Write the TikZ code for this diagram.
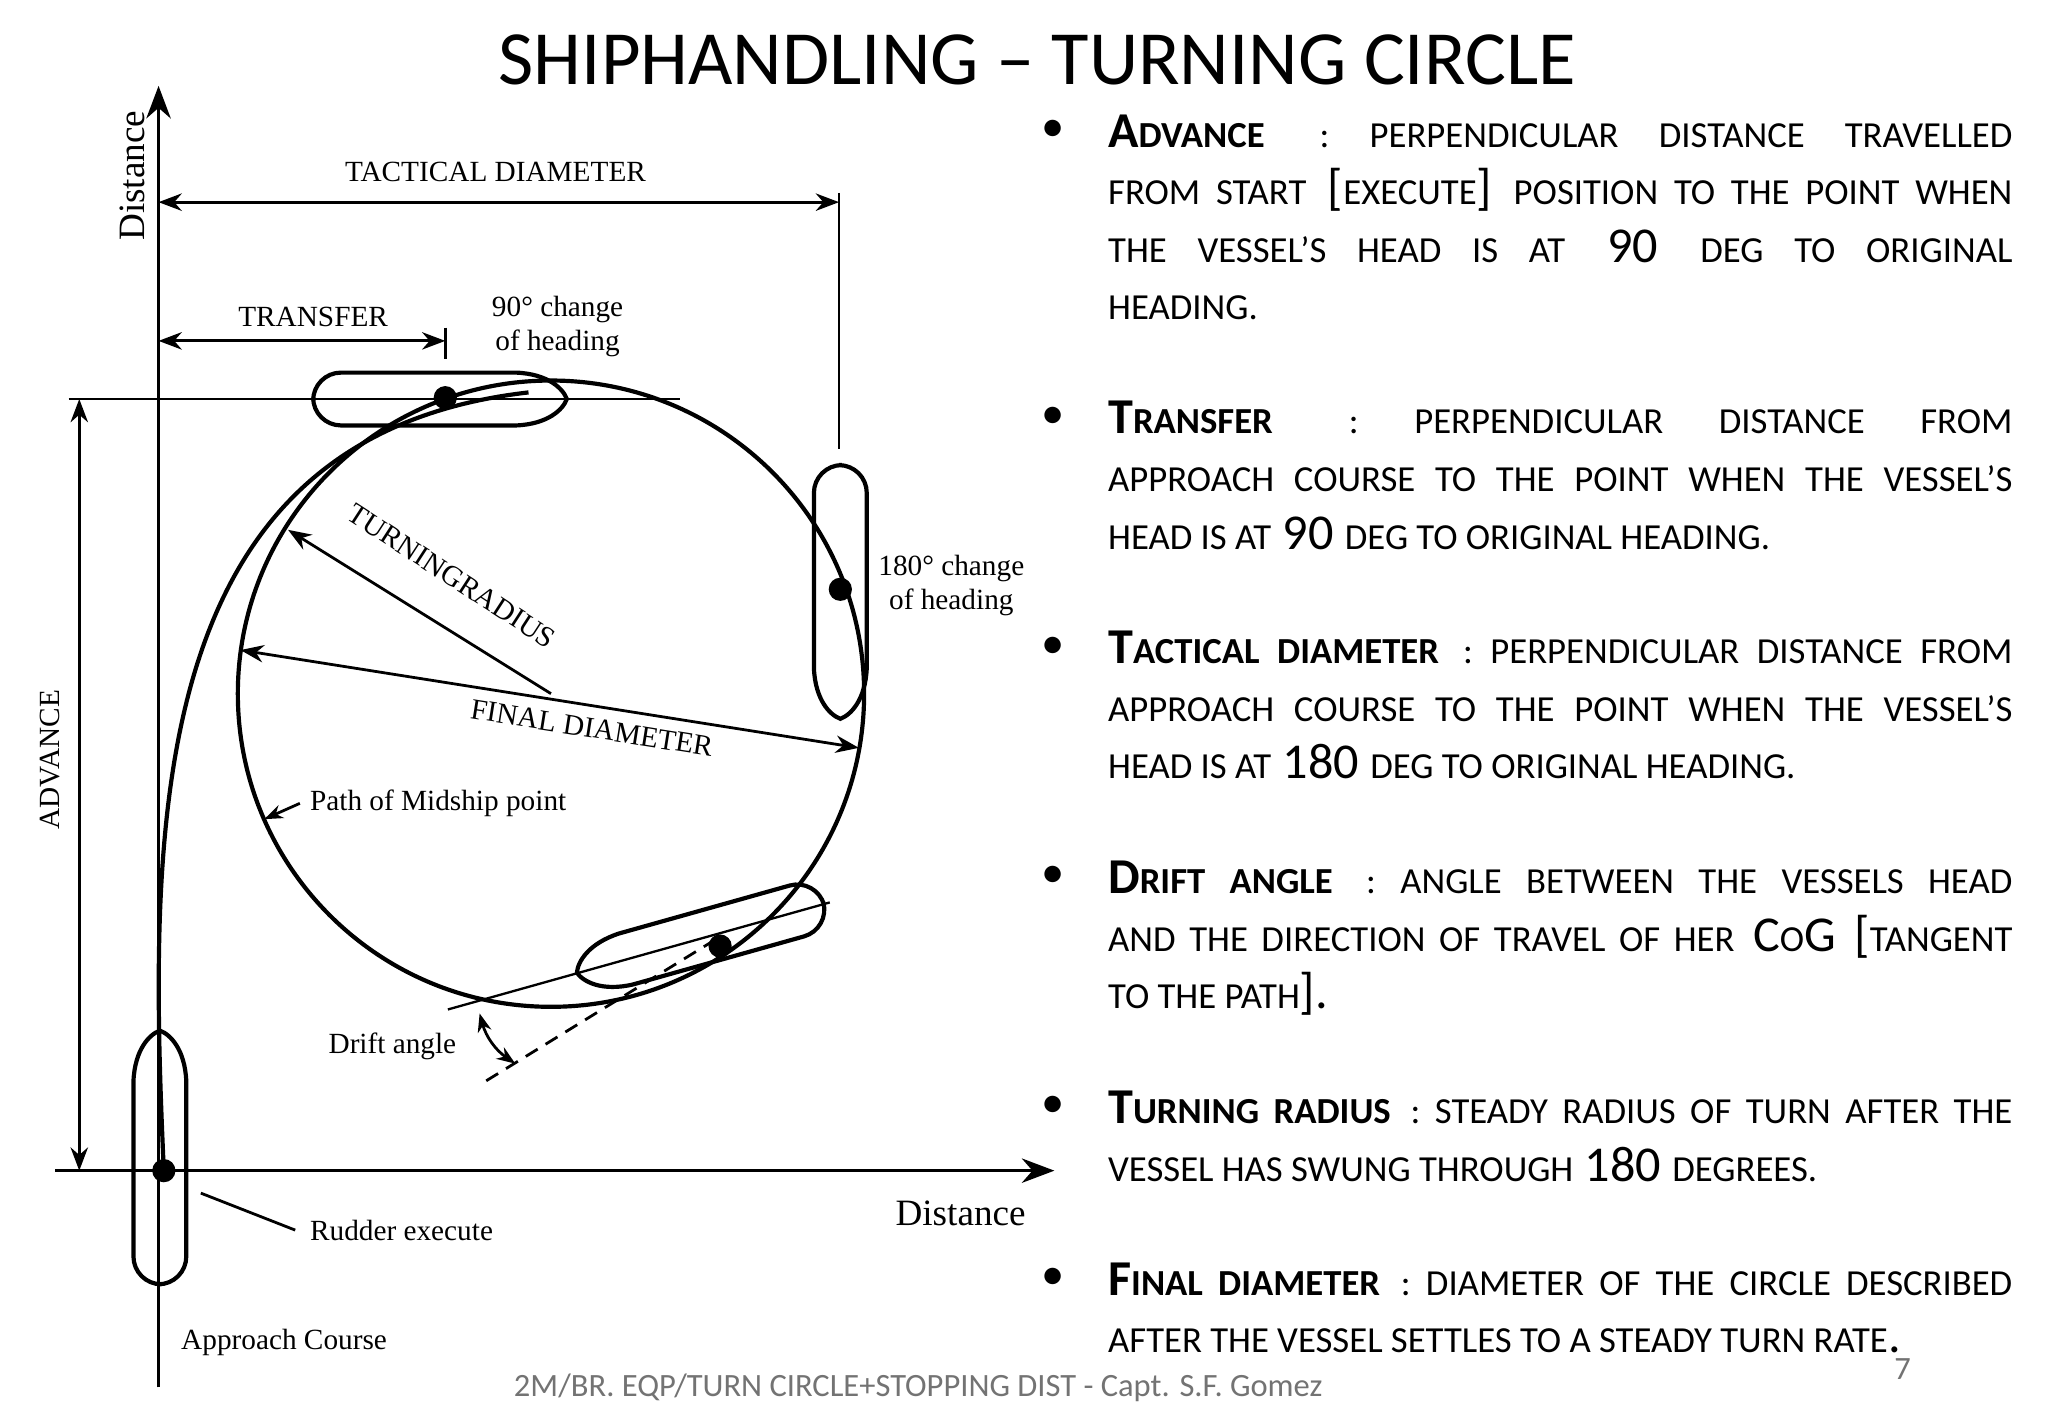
\documentclass[tikz,border=0pt]{standalone}
\usepackage{fontspec}
\setmainfont{Carlito}
\newfontfamily\serif{Liberation Serif}
\usetikzlibrary{arrows.meta}
\hfuzz=30pt
\hbadness=10000
\newcommand\sm[1]{{\fontsize{7.9}{12.4}\selectfont #1}}
\newcommand\nohy{\hyphenpenalty=10000 \exhyphenpenalty=10000 }
\newcommand\shipat[4]{\begin{scope}[shift={(#1,#2)},rotate=#3]
\draw[line width=0.9pt] (0.6*#4,20) [rounded corners=6]-- (-#4,20) -- (-#4,-20) [sharp corners]-- (0.6*#4,-20) .. controls (0.85*#4,-19) and (0.97*#4,-8) .. (#4,0) .. controls (0.97*#4,8) and (0.85*#4,19) .. (0.6*#4,20) -- cycle;
\end{scope}}
\tikzset{lbl/.style={font=\serif\fontsize{6.3}{7.3}\selectfont, inner sep=0pt},
 dim/.style={{Stealth[length=5pt]}-{Stealth[length=5pt]}, line width=0.6pt},
 bul/.style={anchor=north west, text width=6.84cm, align=justify, inner sep=0pt, font=\fontsize{10.8}{12.4}\selectfont},
 dot/.style={circle, fill, inner sep=0pt, minimum size=5pt}}
\begin{document}
\begin{tikzpicture}[x=0.01cm,y=-0.01cm]
\useasboundingbox (0,0) rectangle (1550,1073);
\node[font=\fontsize{16.5}{18}\selectfont] (title) at (785,45) {SHIPHANDLING -- TURNING CIRCLE};
% axes
\coordinate (yb) at (120,1050); \coordinate (yt) at (120,65);
\coordinate (xl) at (42,886); \coordinate (xr) at (798,886);
\draw[line width=0.7pt,-{Stealth[length=7pt]}] (yb) -- (yt);
\draw[line width=0.7pt,-{Stealth[length=7pt]}] (xl) -- (xr);
\node[lbl,font=\serif\fontsize{8}{9}\selectfont,rotate=90] (d1) at (100,133) {Distance};
\node[lbl,font=\serif\fontsize{8}{9}\selectfont] (d2) at (727,918) {Distance};
% tactical
\coordinate (t1) at (120,153); \coordinate (t2) at (635,153);
\draw[dim] (t1) -- (t2);
\coordinate (tk1) at (635,146); \coordinate (tk2) at (635,340);
\draw[line width=0.6pt] (tk1) -- (tk2);
\node[lbl] (tdl) at (375,130) {TACTICAL DIAMETER};
% transfer
\coordinate (tr1) at (120,258); \coordinate (tr2) at (337,258);
\draw[dim] (tr1) -- (tr2);
\coordinate (tt1) at (337,248); \coordinate (tt2) at (337,272);
\draw[line width=0.6pt] (tt1) -- (tt2);
\node[lbl] (trl) at (237,240) {TRANSFER};
\node[lbl,align=center] (c90) at (422,247) {90° change\\of heading};
% advance
\coordinate (a1) at (60,302); \coordinate (a2) at (60,886);
\draw[dim] (a1) -- (a2);
\coordinate (h1) at (52,302); \coordinate (h2) at (515,302);
\draw[line width=0.6pt] (h1) -- (h2);
\node[lbl,rotate=90] (adv) at (38,575) {ADVANCE};
% circle and path
\coordinate (cc) at (417,525);
\draw[line width=0.9pt] (cc) circle (237);
\coordinate (s0) at (124,886); \coordinate (s1) at (400,297);
\draw[line width=0.9pt] (s0) .. controls (112,620) and (110,330) .. (s1);
% ships
\shipat{333}{302}{0}{96}
\shipat{636}{448}{-90}{96}
\shipat{121}{876}{90}{96}
\shipat{530}{710}{195.7}{97}
\node[dot] (p1) at (337,301) {};
\node[dot] (p2) at (636,446) {};
\node[dot] (p3) at (124,886) {};
\node[dot] (p4) at (545,716) {};
\node[lbl,align=center] (c180) at (720,443) {180° change\\of heading};
% radius & diameter
\coordinate (r1) at (218,401);
\draw[line width=0.6pt,{Stealth[length=5pt]}-] (r1) -- (cc);
\node[lbl,rotate=-33] (trl2) at (342,436) {TURNINGRADIUS};
\coordinate (f1) at (182,492); \coordinate (f2) at (650,566);
\draw[dim] (f1) -- (f2);
\node[lbl,rotate=-9] (fdl) at (448,551) {FINAL DIAMETER};
% path label
\node[lbl,anchor=west] (pml) at (234,608) {Path of Midship point};
\coordinate (pa) at (200,620);
\draw[line width=0.6pt,-{Stealth[length=4pt]}] ([xshift=-2pt]pml.west) -- (pa);
% drift angle
\coordinate (dl1) at (339,764); \coordinate (dl2) at (628,683);
\draw[line width=0.5pt] (dl1) -- (dl2);
\coordinate (dd1) at (368,818); \coordinate (dd2) at (540,712);
\draw[line width=0.6pt,densely dashed] (dd1) -- (dd2);
\coordinate (ar1) at (363,767); \coordinate (ar2) at (390,805);
\draw[line width=0.6pt,{Stealth[length=4pt]}-{Stealth[length=4pt]}] (ar1) to[bend right=20] (ar2);
\node[lbl] (dal) at (297,792) {Drift angle};
% rudder
\node[lbl,anchor=west] (rud) at (234,931) {Rudder execute};
\coordinate (ru1) at (152,903);
\draw[line width=0.6pt] (ru1) -- ([xshift=-3pt]rud.west);
\node[lbl] (app) at (215,1016) {Approach Course};
% footer
\node[font=\fontsize{7}{8}\selectfont, text=black!55] (foot) at (695,1050) {2M/BR. EQP/TURN CIRCLE+STOPPING DIST - Capt. S.F. Gomez};
\node[font=\fontsize{7}{8}\selectfont, text=black!55] (pg) at (1440,1036) {7};
% bullets
\foreach \yy/\nm in {99/b1,316/b2,490/b3,664/b4,838/b5,968/b6}
  \node[font=\fontsize{10}{12}\selectfont] (\nm) at (797,\yy) {•};
\node[bul] (t1) at (838,86) {\nohy\textbf{A\sm{DVANCE}} \sm{: PERPENDICULAR DISTANCE TRAVELLED}\linebreak \sm{FROM START} [\sm{EXECUTE}] \sm{POSITION TO THE POINT WHEN}\linebreak \sm{THE VESSEL’S HEAD IS AT} 90 \sm{DEG TO ORIGINAL}\linebreak \sm{HEADING.}};
\node[bul] (t2) at (838,303) {\nohy\textbf{T\sm{RANSFER}} \sm{: PERPENDICULAR DISTANCE FROM}\linebreak \sm{APPROACH COURSE TO THE POINT WHEN THE VESSEL’S}\linebreak \sm{HEAD IS AT} 90 \sm{DEG TO ORIGINAL HEADING.}};
\node[bul] (t3) at (838,477) {\nohy\textbf{T\sm{ACTICAL DIAMETER}} \sm{: PERPENDICULAR DISTANCE FROM}\linebreak \sm{APPROACH COURSE TO THE POINT WHEN THE VESSEL’S}\linebreak \sm{HEAD IS AT} 180 \sm{DEG TO ORIGINAL HEADING.}};
\node[bul] (t4) at (838,651) {\nohy\textbf{D\sm{RIFT ANGLE}} \sm{: ANGLE BETWEEN THE VESSELS HEAD}\linebreak \sm{AND THE DIRECTION OF TRAVEL OF HER} C\sm{O}G [\sm{TANGENT}\linebreak \sm{TO THE PATH}].};
\node[bul] (t5) at (838,825) {\nohy\textbf{T\sm{URNING RADIUS}} \sm{: STEADY RADIUS OF TURN AFTER THE}\linebreak \sm{VESSEL HAS SWUNG THROUGH} 180 \sm{DEGREES.}};
\node[bul] (t6) at (838,955) {\nohy\textbf{F\sm{INAL DIAMETER}} \sm{: DIAMETER OF THE CIRCLE DESCRIBED}\linebreak \sm{AFTER THE VESSEL SETTLES TO A STEADY TURN RATE}.};
\end{tikzpicture}
\end{document}
